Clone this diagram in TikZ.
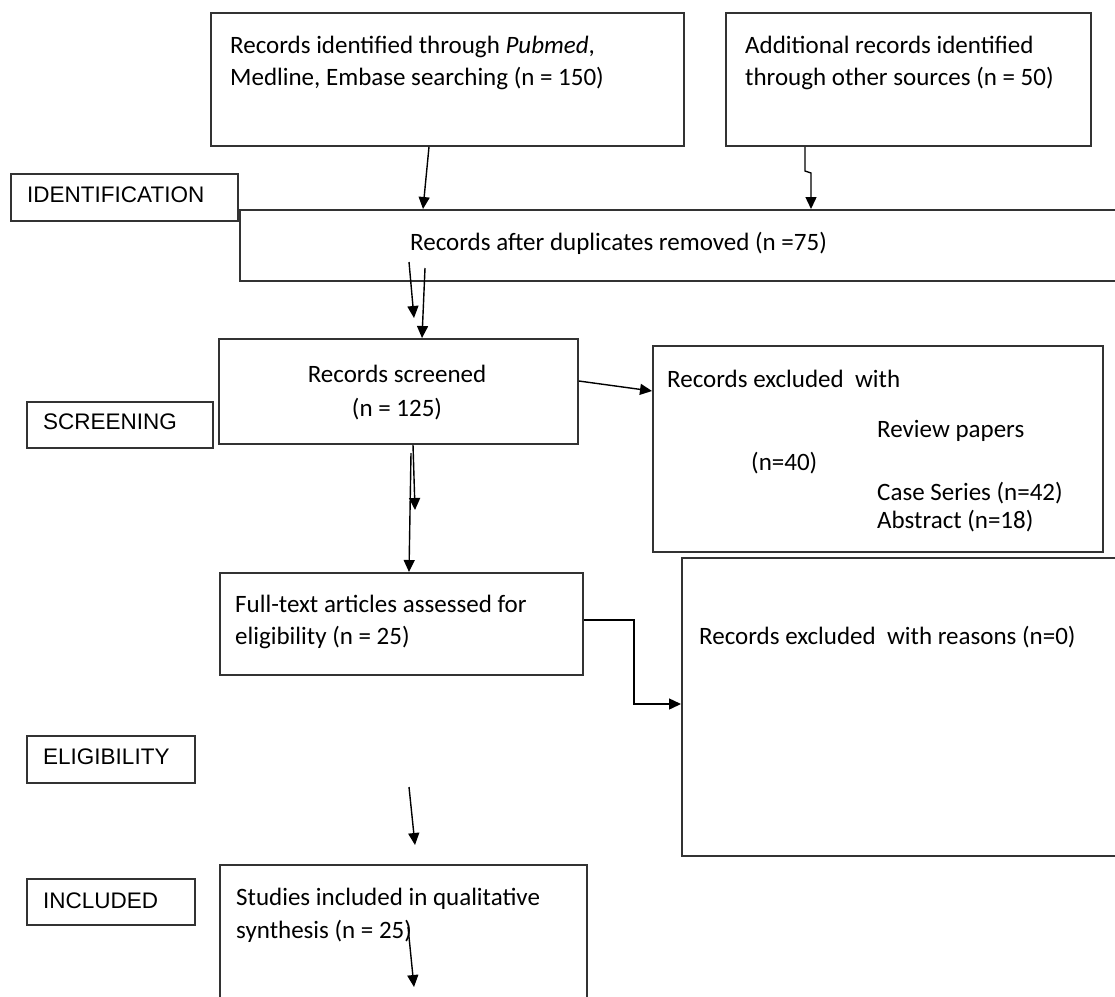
\documentclass[tikz,border=0pt]{standalone}
\usepackage{fontspec}
\setmainfont{Carlito}
\newfontfamily\labelfont{Liberation Sans}
\usetikzlibrary{arrows.meta}
\begin{document}
\begin{tikzpicture}[x=1pt,y=-1pt,
  box/.style={draw=black!80, line width=1.8pt, inner sep=0pt, anchor=north west},
  txt/.style={anchor=base west, inner sep=0pt, font=\fontsize{25}{32}\selectfont},
  lbl/.style={anchor=west, inner sep=0pt, font=\labelfont\fontsize{22.5}{28}\selectfont},
  arr/.style={line width=1.4pt, -{Triangle[length=12pt,width=11pt]}}]
\useasboundingbox (0,0) rectangle (1115,996);
\clip (0,0) rectangle (1115,996);
% boxes
\node[box,minimum width=473pt,minimum height=133pt] (A) at (210,12) {};
\node[box,minimum width=365pt,minimum height=133pt] (B) at (725,12) {};
\node[box,minimum width=227pt,minimum height=47pt] (idl) at (10,173) {};
\node[box,minimum width=890pt,minimum height=71pt] (dup) at (239,209) {};
\node[box,minimum width=359pt,minimum height=105pt] (scr) at (218,338) {};
\node[box,minimum width=186pt,minimum height=46pt] (scl) at (26,401) {};
\node[box,minimum width=450pt,minimum height=206pt] (ex1) at (652,345) {};
\node[box,minimum width=363pt,minimum height=102pt] (ft) at (219,572) {};
\node[box,minimum width=450pt,minimum height=298pt] (ex2) at (681,557) {};
\node[box,minimum width=168pt,minimum height=47pt] (ell) at (26,735) {};
\node[box,minimum width=168pt,minimum height=46pt] (inl) at (26,878) {};
\node[box,minimum width=367pt,minimum height=150pt] (st) at (219,864) {};
% texts
\node[txt] (tA1) at (230,53) {Records identified through \textit{Pubmed},};
\node[txt] (tA2) at (230,85) {Medline, Embase searching (n = 150)};
\node[txt] (tB1) at (745,53) {Additional records identified};
\node[txt] (tB2) at (745,85) {through other sources (n = 50)};
\node[lbl] (tid) at (27,195) {IDENTIFICATION};
\node[txt] (tdup) at (410,250) {Records after duplicates removed (n =75)};
\node[txt,anchor=base] (ts1) at (397,382) {Records screened};
\node[txt,anchor=base] (ts2) at (397,416) {(n = 125)};
\node[lbl] (tsc) at (43,422) {SCREENING};
\node[txt] (te1) at (667,387) {Records excluded\ \ with};
\node[txt] (te2) at (877,437) {Review papers};
\node[txt] (te3) at (751,470) {(n=40)};
\node[txt] (te4) at (877,500) {Case Series (n=42)};
\node[txt] (te5) at (877,528) {Abstract (n=18)};
\node[txt] (tf1) at (235,612) {Full-text articles assessed for};
\node[txt] (tf2) at (235,644) {eligibility (n = 25)};
\node[txt] (tx2) at (699,644) {Records excluded\ \ with reasons (n=0)};
\node[lbl] (tel) at (43,757) {ELIGIBILITY};
\node[lbl] (tin) at (43,901) {INCLUDED};
\node[txt] (tst1) at (236,905) {Studies included in qualitative};
\node[txt] (tst2) at (236,938) {synthesis (n = 25)};
% free connector ends
\coordinate (d1) at (409,262);
\coordinate (d1e) at (414,318);
\coordinate (d2) at (425,268);
\coordinate (s1e) at (415,510);
\coordinate (s2) at (411,453);
\coordinate (e1) at (409,787);
\coordinate (e1e) at (415,845);
\coordinate (i1) at (408,927);
\coordinate (i1e) at (414,987);
% connectors
\draw[arr] (A.south -| 429,0) -- (dup.north -| 423,0);
\draw[arr] (B.south -| 805,0) -- (805,171) -- (811,173) -- (dup.north -| 811,0);
\draw[arr] (d1) -- (d1e);
\draw[arr] (d2) -- (scr.north -| 422,0);
\draw[arr] (scr.east |- 0,381) -- (ex1.west |- 0,391);
\draw[arr] (scr.south -| 413,0) -- (s1e);
\draw[arr] (s2) -- (ft.north -| 409,0);
\draw[arr] (ft.east |- 0,620) -- (634,620) |- (ex2.west |- 0,704);
\draw[arr] (e1) -- (e1e);
\draw[arr] (i1) -- (i1e);
\end{tikzpicture}
\end{document}
